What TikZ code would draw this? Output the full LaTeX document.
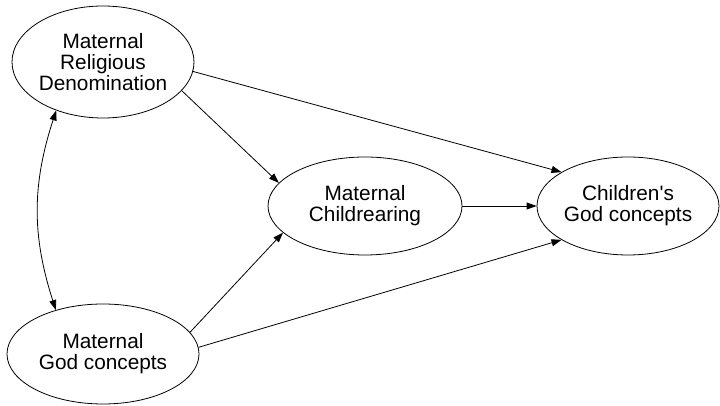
\documentclass[tikz,border=0pt]{standalone}
\usepackage{fontspec}
\setmainfont{Liberation Sans}
\usetikzlibrary{shapes.geometric,arrows.meta}
\begin{document}
\begin{tikzpicture}[x=1pt,y=1pt,
  every node/.style={font=\fontsize{20.8}{21}\selectfont},
  var/.style={ellipse,draw,line width=0.8pt,inner sep=0pt,align=center},
  conn/.style={line width=0.8pt,-{Triangle[length=10pt,width=7pt]}},
  dconn/.style={line width=0.8pt,{Triangle[length=10pt,width=7pt]}-{Triangle[length=10pt,width=7pt]}}]
\useasboundingbox (0,0) rectangle (720,406);
\node[var,minimum width=182pt,minimum height=112pt] (mrd) at (103,344) {Maternal\\Religious\\Denomination};
\node[var,minimum width=192pt,minimum height=100pt] (mgc) at (103,52) {Maternal\\God concepts};
\node[var,minimum width=194pt,minimum height=98pt] (mc) at (365,200) {Maternal\\Childrearing};
\node[var,minimum width=182pt,minimum height=98pt] (cgc) at (628,200) {Children\textquotesingle s\\God concepts};
\draw[conn] (mrd.340) -- (mc.165);
\draw[conn] (mrd.354) -- (cgc.153);
\draw[conn] (mc.east) -- (cgc.west);
\draw[conn] (mgc.14) -- (mc.198);
\draw[conn] (mgc.4) -- (cgc.207);
\draw[dconn] (mrd.226) to[bend right=18] (mgc.137);
\end{tikzpicture}
\end{document}
